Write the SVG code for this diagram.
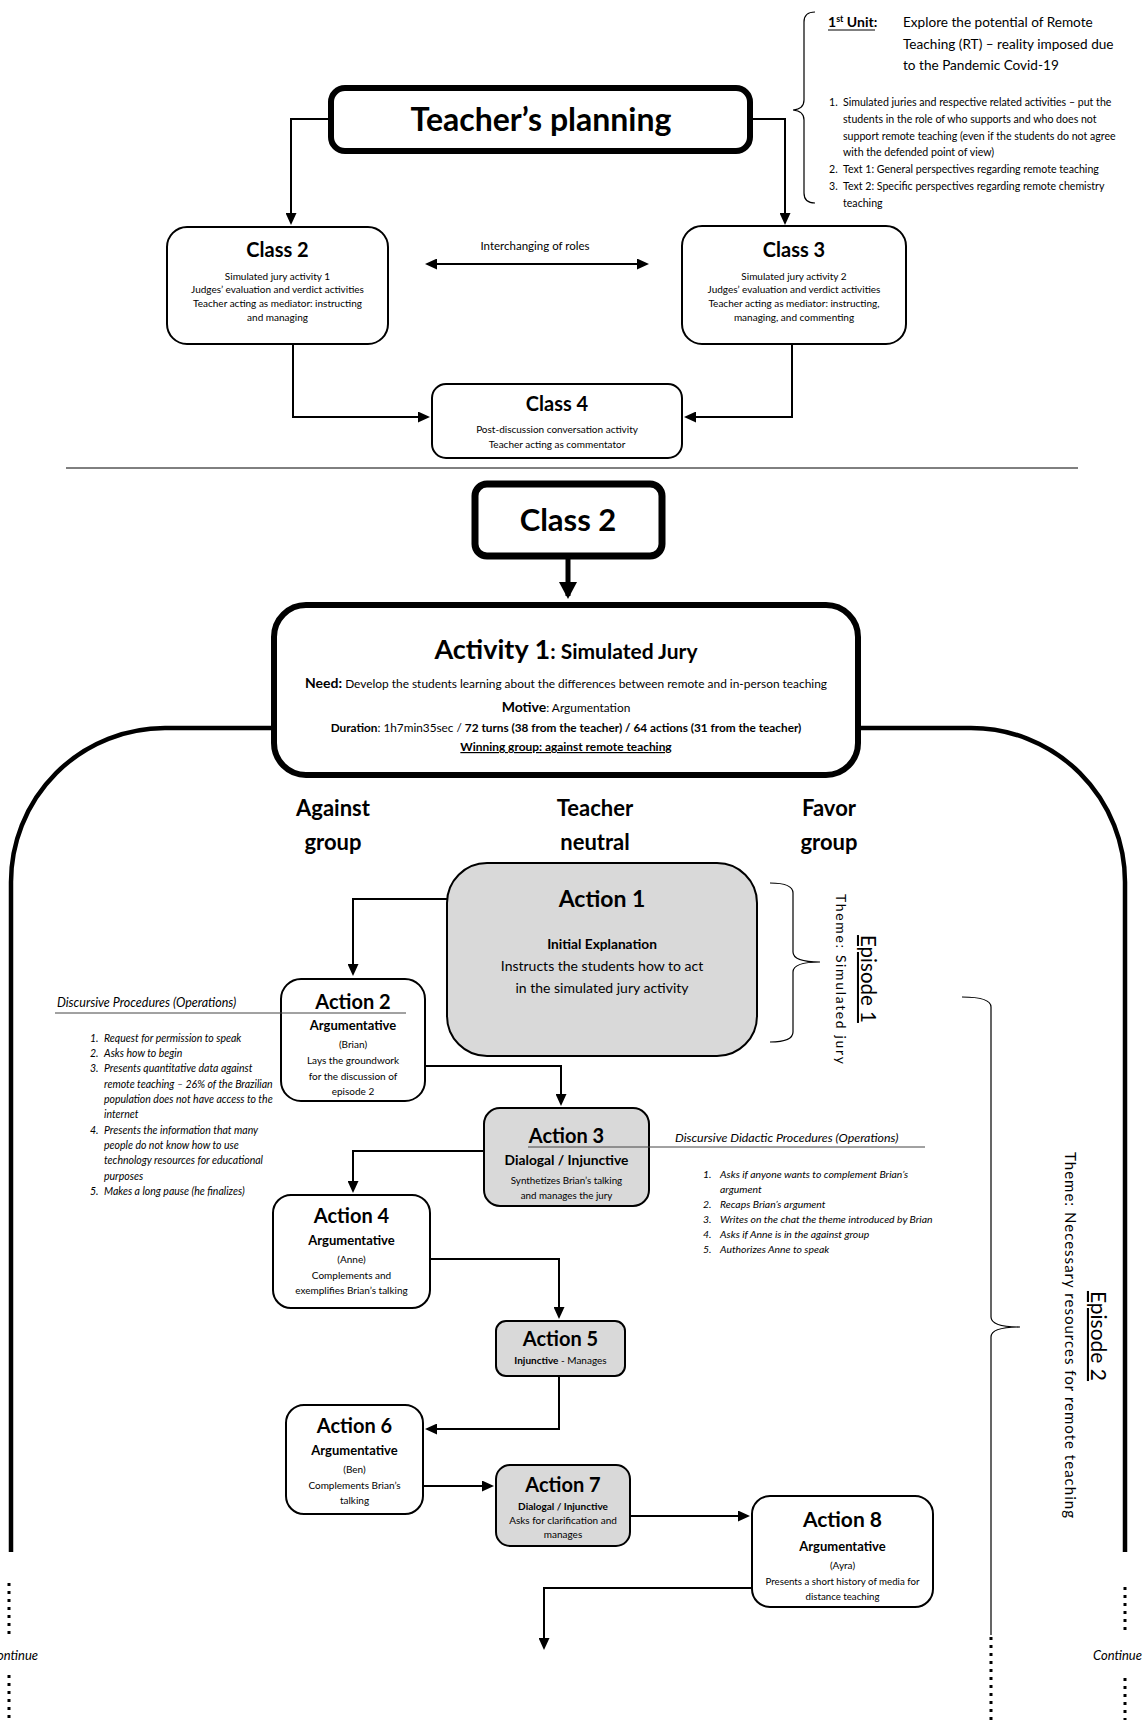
<svg xmlns="http://www.w3.org/2000/svg" width="1147" height="1720" viewBox="0 0 1147 1720">
<defs>
<marker id="ah" markerUnits="userSpaceOnUse" markerWidth="12" markerHeight="11" refX="10" refY="5.5" orient="auto-start-reverse"><path d="M0,0 L12,5.5 L0,11 z" fill="#000"/></marker>
<marker id="ahb" markerUnits="userSpaceOnUse" markerWidth="18" markerHeight="18" refX="14" refY="9" orient="auto"><path d="M0,0 L17,9 L0,18 z" fill="#000"/></marker>
<style>
text{font-family:Lato,"Liberation Sans",sans-serif;fill:#000}
.c{text-anchor:middle}
.b{font-weight:bold}
.i{font-style:italic}
.box{fill:#fff;stroke:#000;stroke-width:2}
.gbox{fill:#d9d9d9;stroke:#000;stroke-width:2}
.con{fill:none;stroke:#000;stroke-width:2}
.thin{fill:none;stroke:#000;stroke-width:1.2}
.dot{fill:none;stroke:#000;stroke-width:3;stroke-dasharray:3 5}
.big{fill:none;stroke:#000;stroke-width:4.5}
.t{font-size:20px;font-weight:bold}
.s{font-size:10px}
.li{font-size:10.5px;font-style:italic}
.lr{font-size:10.4px;font-style:italic}
</style>
</defs>

<g id="unit">
<path class="thin" d="M815,12 Q804,12 804,22 V100 Q804,109 793,110 Q804,111 804,120 V193 Q804,203 815,203"/>
<text x="828" y="27" font-size="14" class="b">1<tspan dy="-5" font-size="9">st</tspan><tspan dy="5"> Unit</tspan>:</text>
<line x1="828" y1="30" x2="875" y2="30" stroke="#000" stroke-width="1.2"/>
<text x="903" y="27" font-size="13.6">Explore the potential of Remote</text>
<text x="903" y="49" font-size="13.6">Teaching (RT) – reality imposed due</text>
<text x="903" y="70" font-size="13.6">to the Pandemic Covid-19</text>
<g font-size="10.6">
<text x="829" y="106">1.</text><text x="843" y="106">Simulated juries and respective related activities – put the</text>
<text x="843" y="123">students in the role of who supports and who does not</text>
<text x="843" y="140">support remote teaching (even if the students do not agree</text>
<text x="843" y="156">with the defended point of view)</text>
<text x="829" y="173">2.</text><text x="843" y="173">Text 1: General perspectives regarding remote teaching</text>
<text x="829" y="190">3.</text><text x="843" y="190">Text 2: Specific perspectives regarding remote chemistry</text>
<text x="843" y="207">teaching</text>
</g>
</g>

<g id="teachers-planning">
<rect x="331" y="88" width="419" height="63" rx="14" fill="#fff" stroke="#000" stroke-width="6"/>
<text x="541" y="131" class="c b" font-size="32">Teacher’s planning</text>
</g>

<g id="class2-top">
<rect class="box" x="167" y="227" width="221" height="117" rx="20"/>
<text x="277.5" y="257" class="c t">Class 2</text>
<text x="277.5" y="280" class="c s">Simulated jury activity 1</text>
<text x="277.5" y="293" class="c s">Judges’ evaluation and verdict activities</text>
<text x="277.5" y="307" class="c s">Teacher acting as mediator: instructing</text>
<text x="277.5" y="321" class="c s">and managing</text>
</g>

<g id="class3">
<rect class="box" x="682" y="226" width="224" height="118" rx="20"/>
<text x="794" y="257" class="c t">Class 3</text>
<text x="794" y="280" class="c s">Simulated jury activity 2</text>
<text x="794" y="293" class="c s">Judges’ evaluation and verdict activities</text>
<text x="794" y="307" class="c s">Teacher acting as mediator: instructing,</text>
<text x="794" y="321" class="c s">managing, and commenting</text>
</g>

<g id="class4">
<rect class="box" x="432" y="384" width="250" height="74" rx="14"/>
<text x="557" y="411" class="c t">Class 4</text>
<text x="557" y="433" class="c s">Post-discussion conversation activity</text>
<text x="557" y="448" class="c s">Teacher acting  as commentator</text>
</g>

<text x="535" y="250" class="c" font-size="11.5">Interchanging of roles</text>

<line x1="66" y1="468" x2="1078" y2="468" stroke="#000" stroke-width="1"/>

<g id="class2-main">
<rect x="475" y="484" width="187" height="72" rx="12" fill="#fff" stroke="#000" stroke-width="7"/>
<text x="568" y="531" class="c b" font-size="31">Class 2</text>
</g>

<g id="activity1">
<rect x="274" y="605" width="584" height="170" rx="32" fill="#fff" stroke="#000" stroke-width="6"/>
<text x="566" y="659" class="c b" font-size="27">Activity 1<tspan font-size="21">: Simulated Jury</tspan></text>
<text x="566" y="688" class="c" font-size="11.9"><tspan class="b" font-size="14">Need:</tspan> Develop the students learning about the differences between remote and in-person teaching</text>
<text x="566" y="712" class="c" font-size="11.9"><tspan font-size="14" font-weight="bold">Motive</tspan>: Argumentation</text>
<text x="566" y="732" class="c" font-size="11.8"><tspan font-weight="bold">Duration</tspan>: 1h7min35sec / <tspan font-weight="bold">72 turns (38 from the teacher) / 64 actions (31 from the teacher)</tspan></text>
<text x="566" y="751" class="c b" font-size="11.9" text-decoration="underline">Winning group: against remote teaching</text>
</g>

<g id="headings" class="b" font-size="22">
<text x="333" y="816" class="c b">Against</text>
<text x="333" y="850" class="c b">group</text>
<text x="595" y="816" class="c b">Teacher</text>
<text x="595" y="850" class="c b">neutral</text>
<text x="829" y="816" class="c b">Favor</text>
<text x="829" y="850" class="c b">group</text>
</g>

<g id="action1">
<rect class="gbox" x="447" y="863" width="310" height="193" rx="40"/>
<text x="602" y="907" class="c b" font-size="23">Action 1</text>
<text x="602" y="949" class="c b" font-size="13.7">Initial Explanation</text>
<text x="602" y="971" class="c" font-size="14">Instructs the students how to act</text>
<text x="602" y="993" class="c" font-size="14">in the simulated jury activity</text>
</g>

<g id="episode1">
<path class="thin" d="M770,883 Q793,883 793,893 V952 Q793,962 820,962 Q793,962 793,972 V1032 Q793,1042 770,1042"/>
<text transform="translate(861,979) rotate(90)" class="c" font-size="20.5" text-decoration="underline">Episode 1</text>
<text transform="translate(836,979) rotate(90)" class="c" font-size="14" textLength="170" lengthAdjust="spacing">Theme: Simulated jury</text>
</g>

<g id="action2">
<rect class="box" x="281" y="979" width="144" height="122" rx="20"/>
<text x="353" y="1009" class="c t">Action 2</text>
<text x="353" y="1030" class="c b" font-size="13">Argumentative</text>
<text x="353" y="1048" class="c s">(Brian)</text>
<text x="353" y="1064" class="c s">Lays the groundwork</text>
<text x="353" y="1080" class="c s">for  the discussion of</text>
<text x="353" y="1095" class="c s">episode 2</text>
</g>

<g id="discursive-procedures">
<text x="57" y="1007" class="i" font-size="12.5">Discursive Procedures (Operations)</text>
<line x1="55" y1="1013" x2="406" y2="1013" stroke="#444" stroke-width="1"/>
<g>
<text x="90" y="1042" class="li">1.</text><text x="104" y="1042" class="li">Request for permission to speak</text>
<text x="90" y="1057" class="li">2.</text><text x="104" y="1057" class="li">Asks how to begin</text>
<text x="90" y="1072" class="li">3.</text><text x="104" y="1072" class="li">Presents quantitative data against</text>
<text x="104" y="1088" class="li">remote teaching – 26% of the Brazilian</text>
<text x="104" y="1103" class="li">population does not have access to the</text>
<text x="104" y="1118" class="li">internet</text>
<text x="90" y="1134" class="li">4.</text><text x="104" y="1134" class="li">Presents the information that many</text>
<text x="104" y="1149" class="li">people do not know how to use</text>
<text x="104" y="1164" class="li">technology resources for educational</text>
<text x="104" y="1180" class="li">purposes</text>
<text x="90" y="1195" class="li">5.</text><text x="104" y="1195" class="li">Makes a long pause (he finalizes)</text>
</g>
</g>

<g id="action3">
<rect class="gbox" x="484" y="1108" width="165" height="98" rx="16"/>
<text x="566.5" y="1143" class="c t">Action 3</text>
<text x="566.5" y="1165" class="c b" font-size="13.8">Dialogal / Injunctive</text>
<text x="566.5" y="1184" class="c" font-size="9.8">Synthetizes Brian’s talking</text>
<text x="566.5" y="1199" class="c" font-size="9.8">and manages the jury</text>
</g>

<g id="didactic-procedures">
<line x1="528" y1="1147" x2="925" y2="1147" stroke="#444" stroke-width="1"/>
<text x="675" y="1142" class="i" font-size="12.4">Discursive Didactic Procedures (Operations)</text>
<text x="703" y="1178" class="lr">1.</text><text x="720" y="1178" class="lr">Asks if anyone wants to complement Brian’s</text>
<text x="720" y="1193" class="lr">argument</text>
<text x="703" y="1208" class="lr">2.</text><text x="720" y="1208" class="lr">Recaps Brian’s argument</text>
<text x="703" y="1223" class="lr">3.</text><text x="720" y="1223" class="lr">Writes on the chat the theme introduced by Brian</text>
<text x="703" y="1238" class="lr">4.</text><text x="720" y="1238" class="lr">Asks if Anne is in the against group</text>
<text x="703" y="1253" class="lr">5.</text><text x="720" y="1253" class="lr">Authorizes  Anne to speak</text>
</g>

<g id="action4">
<rect class="box" x="273" y="1195" width="157" height="113" rx="18"/>
<text x="351.5" y="1223" class="c t">Action 4</text>
<text x="351.5" y="1245" class="c b" font-size="13">Argumentative</text>
<text x="351.5" y="1263" class="c s">(Anne)</text>
<text x="351.5" y="1279" class="c s">Complements and</text>
<text x="351.5" y="1294" class="c s">exemplifies Brian’s talking</text>
</g>

<g id="action5">
<rect class="gbox" x="496" y="1321" width="129" height="55" rx="10"/>
<text x="560.5" y="1346" class="c t">Action 5</text>
<text x="560.5" y="1364" class="c" font-size="10"><tspan font-weight="bold">Injunctive</tspan> - Manages</text>
</g>

<g id="action6">
<rect class="box" x="286" y="1405" width="137" height="109" rx="18"/>
<text x="354.5" y="1433" class="c t">Action 6</text>
<text x="354.5" y="1455" class="c b" font-size="13">Argumentative</text>
<text x="354.5" y="1473" class="c s">(Ben)</text>
<text x="354.5" y="1489" class="c s">Complements Brian’s</text>
<text x="354.5" y="1504" class="c s">talking</text>
</g>

<g id="action7">
<rect class="gbox" x="496" y="1465" width="134" height="81" rx="14"/>
<text x="563" y="1492" class="c t">Action 7</text>
<text x="563" y="1510" class="c b" font-size="10">Dialogal / Injunctive</text>
<text x="563" y="1524" class="c" font-size="10">Asks for clarification and</text>
<text x="563" y="1538" class="c" font-size="10">manages</text>
</g>

<g id="action8">
<rect class="box" x="752" y="1496" width="181" height="111" rx="18"/>
<text x="842.5" y="1527" class="c b" font-size="21">Action 8</text>
<text x="842.5" y="1551" class="c b" font-size="13">Argumentative</text>
<text x="842.5" y="1569" class="c s">(Ayra)</text>
<text x="842.5" y="1585" class="c" font-size="9.7">Presents a short history of media for</text>
<text x="842.5" y="1600" class="c" font-size="9.7">distance teaching</text>
</g>

<g id="episode2">
<path class="thin" d="M962,997 Q991,997 991,1007 V1317 Q991,1327 1020,1327 Q991,1327 991,1337 V1635"/>
<line class="dot" x1="991" y1="1637" x2="991" y2="1720"/>
<text transform="translate(1091,1336) rotate(90)" class="c" font-size="21" text-decoration="underline">Episode 2</text>
<text transform="translate(1065,1335) rotate(90)" class="c" font-size="15" textLength="366" lengthAdjust="spacing">Theme: Necessary resources for remote teaching</text>
</g>

<g id="frame">
<path class="big" d="M274,728 H165 A154,154 0 0 0 11,882 V1552"/>
<path class="big" d="M858,728 H971 A154,154 0 0 1 1125,882 V1552"/>
<line class="dot" x1="9" y1="1583" x2="9" y2="1635"/>
<line class="dot" x1="9" y1="1675" x2="9" y2="1720"/>
<line class="dot" x1="1125" y1="1587" x2="1125" y2="1635"/>
<line class="dot" x1="1125" y1="1678" x2="1125" y2="1720"/>
<text x="38" y="1660" class="i" font-size="13" text-anchor="end">Continue</text>
<text x="1093" y="1660" class="i" font-size="13">Continue</text>
</g>

<g id="connectors">
<path class="con" d="M331,119 H291 V223" marker-end="url(#ah)"/>
<path class="con" d="M750,119 H785 V223" marker-end="url(#ah)"/>
<path class="con" d="M427,264 H647" marker-start="url(#ah)" marker-end="url(#ah)"/>
<path class="con" d="M293,344 V417 H428" marker-end="url(#ah)"/>
<path class="con" d="M792,344 V417 H686" marker-end="url(#ah)"/>
<path d="M568,556 V596" fill="none" stroke="#000" stroke-width="5" marker-end="url(#ahb)"/>
<path class="con" d="M447,899 H353 V974" marker-end="url(#ah)"/>
<path class="con" d="M425,1066 H561 V1104" marker-end="url(#ah)"/>
<path class="con" d="M484,1151 H353 V1191" marker-end="url(#ah)"/>
<path class="con" d="M430,1259 H559 V1317" marker-end="url(#ah)"/>
<path class="con" d="M559,1376 V1429 H427" marker-end="url(#ah)"/>
<path class="con" d="M423,1486 H492" marker-end="url(#ah)"/>
<path class="con" d="M630,1516 H748" marker-end="url(#ah)"/>
<path class="con" d="M752,1588 H544 V1648" marker-end="url(#ah)"/>
</g>
</svg>
